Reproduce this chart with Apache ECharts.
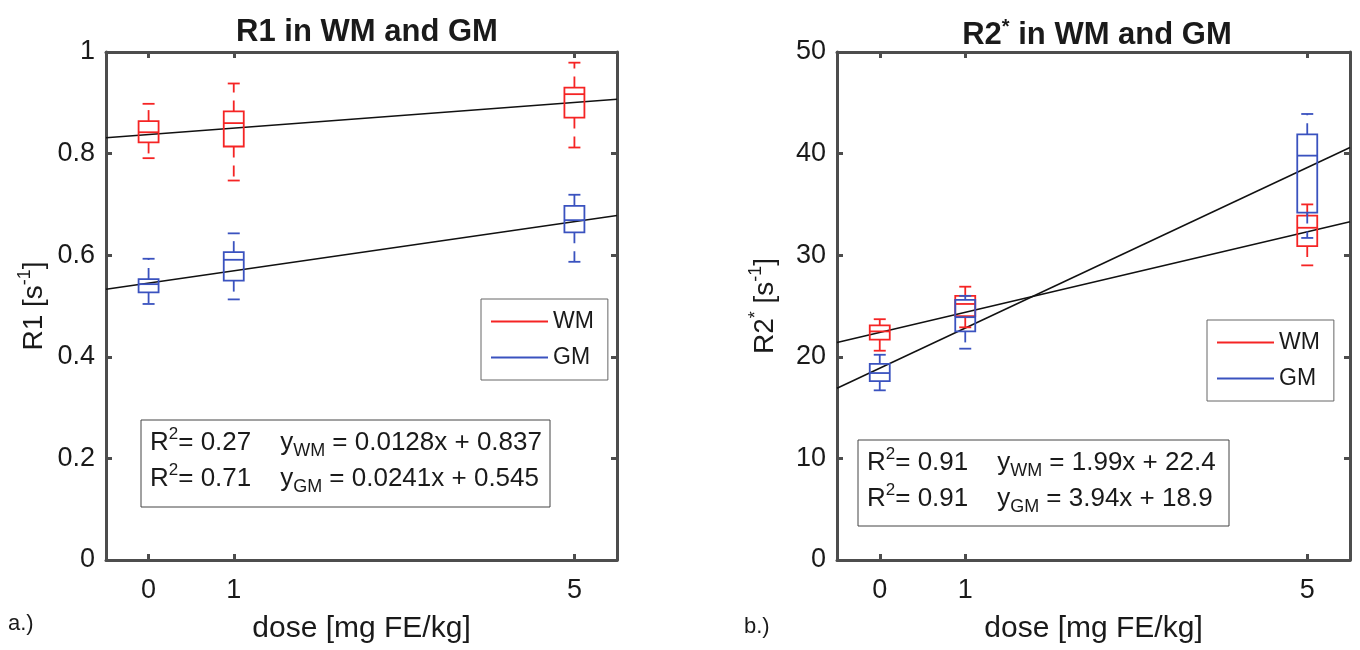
<!DOCTYPE html>
<html>
<head>
<meta charset="utf-8">
<script src="https://cdn.jsdelivr.net/npm/echarts@6/dist/echarts.min.js"></script>
<style>
html,body{margin:0;padding:0;background:#fff;}
#chart{width:1360px;height:650px;}
</style>
</head>
<body>
<div id="chart"></div>
<script>
// ---- data ----
const doses = [0, 1, 5];
const xTickValues = [0, 1, 5];
// [min, q1, median, q3, max]
const r1WM = [[0.791,0.822,0.842,0.864,0.898],[0.747,0.814,0.860,0.883,0.938],[0.812,0.871,0.917,0.930,0.979]];
const r1GM = [[0.504,0.527,0.543,0.553,0.593],[0.513,0.550,0.591,0.606,0.643],[0.587,0.645,0.669,0.697,0.719]];
const r2WM = [[20.6,21.7,22.5,23.1,23.7],[22.9,24.0,25.2,26.0,26.9],[29.0,30.9,32.7,33.9,35.0]];
const r2GM = [[16.7,17.6,18.4,19.3,20.2],[20.8,22.5,23.9,25.6,26.0],[31.7,34.2,39.8,41.9,43.9]];
// regression line end points (x = -0.5 and x = 5.5)
const fitX = [-0.5, 5.5];
const r1FitWM = [0.831, 0.907];
const r1FitGM = [0.533, 0.678];
const r2FitWM = [21.4, 33.3];
const r2FitGM = [16.9, 40.6];
const annotR1 = ['R{sup|2}= 0.27    y{sub|WM} = 0.0128x + 0.837', 'R{sup|2}= 0.71    y{sub|GM} = 0.0241x + 0.545'];
const annotR2 = ['R{sup|2}= 0.91    y{sub|WM} = 1.99x + 22.4', 'R{sup|2}= 0.91    y{sub|GM} = 3.94x + 18.9'];

const RED = '#f52424';
const BLUE = '#3a52bf';
const AX = '#4d4d4d';
const FONT = '"Liberation Sans", Arial, Helvetica, sans-serif';

function boxRender(params, api) {
  const x = api.value(0);
  const v = [1,2,3,4,5].map(i => api.value(i));
  const px = api.coord([x, v[0]])[0];
  const y = v.map(val => api.coord([x, val])[1]);
  const hw = 10, cw = 6;
  const color = api.visual('color');
  const st = {stroke: color, fill: null, lineWidth: 1.8};
  const dash = {stroke: color, fill: null, lineWidth: 1.8, lineDash: [11, 8]};
  return {type: 'group', children: [
    {type:'rect', shape:{x:px-hw, y:y[3], width:2*hw, height:y[1]-y[3]}, style: st},
    {type:'line', shape:{x1:px-hw, y1:y[2], x2:px+hw, y2:y[2]}, style: st},
    {type:'line', shape:{x1:px, y1:y[3], x2:px, y2:y[4]}, style: dash},
    {type:'line', shape:{x1:px, y1:y[1], x2:px, y2:y[0]}, style: dash},
    {type:'line', shape:{x1:px-cw, y1:y[4], x2:px+cw, y2:y[4]}, style: st},
    {type:'line', shape:{x1:px-cw, y1:y[0], x2:px+cw, y2:y[0]}, style: st}
  ]};
}

function boxSeries(name, arr, color, gi) {
  return {
    type: 'custom', name: name, xAxisIndex: gi*2, yAxisIndex: gi*2,
    itemStyle: {color: color},
    renderItem: boxRender,
    encode: {x: 0, y: [1,2,3,4,5]},
    data: doses.map((d, i) => [d].concat(arr[i])),
    z: 3, silent: true
  };
}
function fitSeries(vals, gi) {
  return {
    type: 'line', xAxisIndex: gi*2, yAxisIndex: gi*2, symbol: 'none',
    lineStyle: {color: '#111', width: 1.5}, silent: true, z: 2,
    data: fitX.map((x, i) => [x, vals[i]])
  };
}

const supRich = {
  sup: {fontSize: 17, verticalAlign: 'top', lineHeight: 34, fontFamily: FONT, color: '#1a1a1a'},
  sub: {fontSize: 18, verticalAlign: 'bottom', lineHeight: 34, fontFamily: FONT, color: '#1a1a1a'}
};

function xAxes(gi) {
  const common = {
    gridIndex: gi, type: 'value', min: -0.5, max: 5.5,
    axisLine: {show: true, onZero: false, lineStyle: {color: AX, width: 3}},
    axisTick: {show: true, inside: true, length: 6, customValues: xTickValues, lineStyle: {color: AX, width: 3}},
    splitLine: {show: false}
  };
  return [
    Object.assign({}, common, {
      position: 'bottom',
      axisLabel: {show: true, customValues: xTickValues, margin: 17, fontSize: 27, color: '#1a1a1a', fontFamily: FONT},
      name: 'dose [mg FE/kg]', nameLocation: 'middle', nameGap: 54,
      nameTextStyle: {fontSize: 30, color: '#1a1a1a', fontFamily: FONT}
    }),
    Object.assign({}, common, {position: 'top', axisLabel: {show: false}})
  ];
}
function yAxes(gi, max, interval, nameRich) {
  const common = {
    gridIndex: gi, type: 'value', min: 0, max: max, interval: interval,
    axisLine: {show: true, onZero: false, lineStyle: {color: AX, width: 3}},
    axisTick: {show: true, inside: true, length: 6, lineStyle: {color: AX, width: 3}},
    splitLine: {show: false}
  };
  return [
    Object.assign({}, common, {
      position: 'left',
      axisLabel: {show: true, margin: 11, fontSize: 27, color: '#1a1a1a', fontFamily: FONT},
      name: nameRich, nameLocation: 'middle', nameGap: 54,
      nameTextStyle: {fontSize: 28, color: '#1a1a1a', fontFamily: FONT,
        rich: {sup: {fontSize: 18, verticalAlign: 'top', lineHeight: 36, fontFamily: FONT, color: '#1a1a1a'}}}
    }),
    Object.assign({}, common, {position: 'right', axisLabel: {show: false}})
  ];
}

function legendAt(left, top) {
  return {
    left: left, top: top, orient: 'vertical', icon: 'rect',
    itemWidth: 57, itemHeight: 2, itemGap: 13,
    padding: [11, 14, 11, 10],
    borderColor: '#666', borderWidth: 1, backgroundColor: '#fff',
    selectedMode: false,
    textStyle: {fontSize: 23, lineHeight: 22, color: '#1a1a1a', fontFamily: FONT},
    data: [{name: 'WM', itemStyle: {color: RED}}, {name: 'GM', itemStyle: {color: BLUE}}]
  };
}

function annot(x, y, w, h, lines) {
  const els = [{type: 'rect', shape: {x: x, y: y, width: w, height: h},
    style: {fill: '#fff', stroke: '#444', lineWidth: 1}, z: 10}];
  lines.forEach((t, i) => {
    els.push({type: 'text', x: x + 9, y: y + 23 + i * 36, z: 11,
      style: {text: t, fontSize: 26, fontFamily: FONT, fill: '#1a1a1a',
        verticalAlign: 'middle', align: 'left',
        rich: supRich}});
  });
  return els;
}

const option = {
  animation: false,
  backgroundColor: '#fff',
  title: [
    {text: 'R1 in WM and GM', left: 362, top: 12, textAlign: 'center',
      textStyle: {fontSize: 31, fontWeight: 'bold', color: '#1a1a1a', fontFamily: FONT}},
    {text: 'R2{sup|*} in WM and GM', left: 1092, top: 12, textAlign: 'center',
      textStyle: {fontSize: 31, fontWeight: 'bold', color: '#1a1a1a', fontFamily: FONT,
        rich: {sup: {fontSize: 20, fontWeight: 'bold', verticalAlign: 'top', lineHeight: 36, fontFamily: FONT, color: '#1a1a1a'}}}}
  ],
  grid: [
    {left: 106, right: 743, top: 52, bottom: 90},
    {left: 837, right: 10, top: 52, bottom: 90}
  ],
  xAxis: xAxes(0).concat(xAxes(1)),
  yAxis: yAxes(0, 1, 0.2, 'R1 [s{sup|-1}]').concat(yAxes(1, 50, 10, 'R2{sup|*} [s{sup|-1}]')),
  legend: [legendAt(481, 299), legendAt(1207, 320)],
  series: [
    fitSeries(r1FitWM, 0), fitSeries(r1FitGM, 0),
    fitSeries(r2FitWM, 1), fitSeries(r2FitGM, 1),
    boxSeries('WM', r1WM, RED, 0), boxSeries('GM', r1GM, BLUE, 0),
    boxSeries('WM', r2WM, RED, 1), boxSeries('GM', r2GM, BLUE, 1)
  ],
  graphic: [].concat(
    annot(141, 420, 409, 87, annotR1),
    annot(858, 440, 371, 86, annotR2),
    [
      {type: 'text', x: 8, y: 624, style: {text: 'a.)', fontSize: 22, fontFamily: FONT, fill: '#1a1a1a', verticalAlign: 'middle'}},
      {type: 'text', x: 744, y: 627, style: {text: 'b.)', fontSize: 22, fontFamily: FONT, fill: '#1a1a1a', verticalAlign: 'middle'}}
    ]
  )
};

const chart = echarts.init(document.getElementById('chart'), null, {renderer: 'canvas'});
chart.setOption(option);
</script>
</body>
</html>
